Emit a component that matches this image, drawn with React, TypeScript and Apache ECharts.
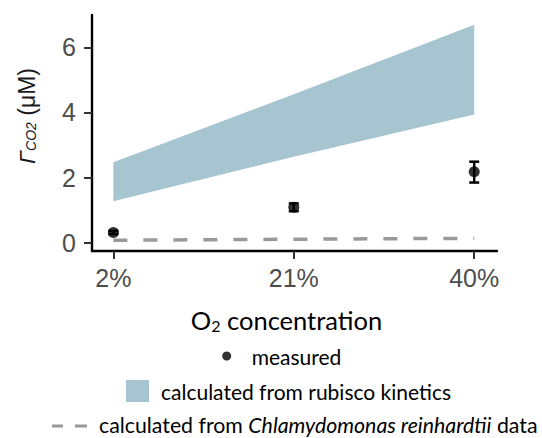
import React, { useEffect, useRef } from "react";
import * as echarts from "echarts";

const xTicks = [2, 21, 40];
const yTicks = [0, 2, 4, 6];
const o2 = [2, 21, 40];
const measured = [0.32, 1.09, 2.18];
const measuredLow = [0.27, 0.97, 1.85];
const measuredHigh = [0.37, 1.21, 2.49];
const rubiscoLower = [1.28, 2.64, 3.94];
const rubiscoUpper = [2.47, 4.56, 6.69];
const chlamy = [0.08, 0.11, 0.14];

const NAME_M = "measured";
const NAME_R = "calculated from rubisco kinetics";
const NAME_C = "calculated from Chlamydomonas reinhardtii data";

const SANS = "'Liberation Sans', Arial, Helvetica, sans-serif";
const LEG = "Lato, 'Open Sans', sans-serif";

export default function App() {
  const ref = useRef<HTMLDivElement>(null);
  useEffect(() => {
    if (!ref.current) return;
    const chart = echarts.init(ref.current, undefined, { renderer: "svg" });
    const option: any = {
      animation: false,
      backgroundColor: "#ffffff",
      grid: { left: 92, right: 45, top: 15, bottom: 187, containLabel: false },
      xAxis: {
        type: "value",
        min: -0.25,
        max: 42.4,
        splitLine: { show: false },
        axisLine: { show: true, onZero: false, lineStyle: { color: "#000", width: 2.4 } },
        axisTick: { show: true, length: 8, customValues: xTicks, lineStyle: { color: "#333", width: 2 } },
        axisLabel: {
          customValues: xTicks,
          formatter: (v: number) => v + "%",
          color: "#4d4d4d",
          fontSize: 25,
          fontFamily: SANS,
          margin: 14,
        },
      },
      yAxis: {
        type: "value",
        min: -0.25,
        max: 6.99,
        splitLine: { show: false },
        axisLine: { show: true, onZero: false, lineStyle: { color: "#000", width: 2.4 } },
        axisTick: { show: true, length: 8, customValues: yTicks, lineStyle: { color: "#333", width: 2 } },
        axisLabel: {
          customValues: yTicks,
          color: "#4d4d4d",
          fontSize: 25,
          fontFamily: SANS,
          margin: 16,
        },
      },
      legend: [
        {
          data: [NAME_M],
          left: 222.2,
          top: 345,
          padding: 0,
          icon: "circle",
          itemWidth: 40,
          itemHeight: 9,
          textStyle: { fontFamily: LEG, fontSize: 21, color: "#000", lineHeight: 22 },
        },
        {
          data: [NAME_R],
          left: 126,
          top: 380,
          padding: 0,
          icon: "rect",
          itemWidth: 23,
          itemHeight: 22,
          textStyle: { fontFamily: LEG, fontSize: 21, color: "#000", lineHeight: 22, padding: [0, 0, 0, 7] },
        },
        {
          data: [NAME_C],
          left: 52,
          top: 414,
          padding: 0,
          icon: "path://M0 0H11V3H0Z M23 0H35V3H23Z",
          itemWidth: 35,
          itemHeight: 3,
          itemStyle: { borderWidth: 0 },
          formatter: () => "{a|calculated from }{i|Chlamydomonas reinhardtii}{a| data}",
          textStyle: {
            fontFamily: LEG,
            fontSize: 21,
            color: "#000",
            lineHeight: 20,
            padding: [0, 0, 3, 7],
            rich: {
              a: { fontFamily: LEG, fontSize: 21.3, color: "#000", lineHeight: 20 },
              i: { fontFamily: LEG, fontSize: 21.3, color: "#000", lineHeight: 20, fontStyle: "italic" },
            },
          },
        },
      ],
      graphic: [
        {
          type: "text",
          x: 24,
          y: 116,
          rotation: Math.PI / 2,
          style: {
            text: "{g|Γ}{s|CO2}{n| (μM)}",
            align: "center",
            verticalAlign: "middle",
            rich: {
              g: { fontFamily: SANS, fontSize: 23, fontStyle: "italic", fill: "#1a1a1a", lineHeight: 28, verticalAlign: "bottom" },
              s: { fontFamily: SANS, fontSize: 14, fontStyle: "italic", fill: "#1a1a1a", lineHeight: 20, verticalAlign: "bottom" },
              n: { fontFamily: SANS, fontSize: 23, fill: "#1a1a1a", lineHeight: 28, verticalAlign: "bottom" },
            },
          },
        },
        {
          type: "text",
          x: 286.5,
          y: 318,
          style: {
            text: "{a|O}{s|2}{a| concentration}",
            align: "center",
            verticalAlign: "middle",
            rich: {
              a: { fontFamily: LEG, fontSize: 25.5, fill: "#000", lineHeight: 30, verticalAlign: "bottom" },
              s: { fontFamily: LEG, fontSize: 16, fill: "#000", lineHeight: 19, verticalAlign: "bottom", padding: [8, 0, 0, 0] },
            },
          },
        },
      ],
      series: [
        {
          name: NAME_R,
          type: "custom",
          itemStyle: { color: "#a7c4d1" },
          data: o2.map((x, i) => [x, rubiscoLower[i], rubiscoUpper[i]]),
          encode: { x: 0, y: [1, 2] },
          renderItem: (params: any, api: any) => {
            if (params.dataIndex !== 0) return null;
            const pts: number[][] = [];
            o2.forEach((x, i) => pts.push(api.coord([x, rubiscoUpper[i]])));
            for (let i = o2.length - 1; i >= 0; i--) pts.push(api.coord([o2[i], rubiscoLower[i]]));
            return { type: "polygon", shape: { points: pts }, style: { fill: "#a7c4d1" } };
          },
          z: 1,
        },
        {
          name: NAME_C,
          type: "line",
          data: o2.map((x, i) => [x, chlamy[i]]),
          symbol: "none",
          itemStyle: { color: "#999999" },
          lineStyle: { color: "#999999", width: 3.5, type: [14, 16] },
          z: 2,
        },
        {
          name: "errorbars",
          type: "custom",
          data: o2.map((x, i) => [x, measuredLow[i], measuredHigh[i]]),
          encode: { x: 0, y: [1, 2] },
          renderItem: (params: any, api: any) => {
            const x = api.value(0);
            const lo = api.coord([x, api.value(1)]);
            const hi = api.coord([x, api.value(2)]);
            const hw = 5;
            const st = { stroke: "#000", lineWidth: 2.5 };
            return {
              type: "group",
              children: [
                { type: "line", shape: { x1: lo[0], y1: lo[1], x2: hi[0], y2: hi[1] }, style: st },
                { type: "line", shape: { x1: lo[0] - hw, y1: lo[1], x2: lo[0] + hw, y2: lo[1] }, style: st },
                { type: "line", shape: { x1: hi[0] - hw, y1: hi[1], x2: hi[0] + hw, y2: hi[1] }, style: st },
              ],
            };
          },
          z: 3,
        },
        {
          name: NAME_M,
          type: "scatter",
          data: o2.map((x, i) => [x, measured[i]]),
          symbol: "circle",
          symbolSize: 11,
          itemStyle: { color: "#000" },
          z: 4,
        },
      ],
    };
    chart.setOption(option);
    return () => chart.dispose();
  }, []);
  return <div ref={ref} style={{ width: 542, height: 438, position: "absolute", left: 0, top: 0 }} />;
}
